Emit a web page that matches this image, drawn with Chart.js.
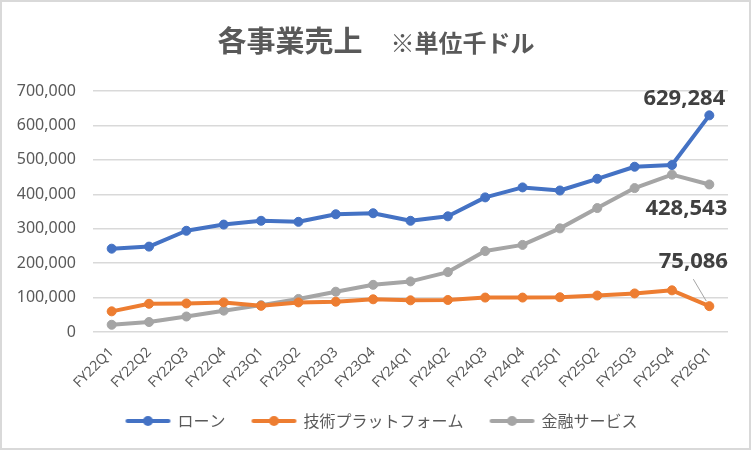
<!DOCTYPE html>
<html><head><meta charset="utf-8">
<script src="https://cdn.jsdelivr.net/npm/chart.js@4.4.0/dist/chart.umd.min.js"></script>
<style>html,body{margin:0;padding:0;background:#fff;}#wrap{width:752px;height:452px;}</style>
</head><body><div id="wrap"><canvas id="c" width="752" height="452"></canvas></div>
<script>
const categories = ["FY22Q1","FY22Q2","FY22Q3","FY22Q4","FY23Q1","FY23Q2","FY23Q3","FY23Q4","FY24Q1","FY24Q2","FY24Q3","FY24Q4","FY25Q1","FY25Q2","FY25Q3","FY25Q4","FY26Q1"];
const loan = [242000,248000,294000,312000,323000,320000,342000,345000,323000,336000,391000,420000,411000,445000,480000,485000,629284];
const techPlatform = [60000,82000,83000,86000,76000,86000,88000,95000,92000,93000,100000,100000,101000,106000,112000,121000,75086];
const finService = [21000,29000,45000,62000,78000,96000,117000,137000,147000,174000,235000,253000,301000,360000,418000,457000,428543];
const seriesNames = ["ローン","技術プラットフォーム","金融サービス"];
const titleMain = "各事業売上";
const titleSub = "※単位千ドル";
const yMin = 0, yMax = 700000, yStep = 100000;

const colors = ["#4472C4","#ED7D31","#A5A5A5"];
const JP = "'Noto Sans CJK JP','Noto Sans',sans-serif";
const NUM = "'Noto Sans','Noto Sans CJK JP',sans-serif";

function marker(color){
  const cv = document.createElement('canvas');
  cv.width = 70; cv.height = 14;
  const g = cv.getContext('2d');
  g.strokeStyle = color; g.lineWidth = 4; g.lineCap = 'round';
  g.beginPath(); g.moveTo(25,7); g.lineTo(66,7); g.stroke();
  g.fillStyle = color; g.beginPath(); g.arc(45.5,7,5,0,Math.PI*2); g.fill();
  return cv;
}
const markers = colors.map(marker);

const labelOffsets = [
  {dx:-25, dy:-17},
  {dx:-16, dy:-44, leader:[[-3,-5],[-16,-27]]},
  {dx:-23, dy:24}
];

const decor = {
  id:'decor',
  beforeDraw(chart){
    const ctx = chart.ctx;
    ctx.save();
    ctx.fillStyle = '#fff'; ctx.fillRect(0,0,chart.width,chart.height);
    ctx.restore();
  },
  afterDraw(chart){
    const ctx = chart.ctx;
    ctx.save();
    ctx.fillStyle = '#595959';
    ctx.textBaseline = 'alphabetic';
    ctx.textAlign = 'left';
    const f1 = "bold 29px " + JP, f2 = "bold 24px " + JP;
    ctx.font = f1;
    const w1 = ctx.measureText(titleMain).width;
    ctx.font = f2;
    const w2 = ctx.measureText(titleSub).width;
    const gap = 28;
    const x0 = 376 - (w1 + gap + w2)/2;
    ctx.font = f1;
    ctx.fillText(titleMain, x0, 52);
    ctx.font = f2;
    ctx.fillText(titleSub, x0 + w1 + gap, 52);
    ctx.strokeStyle = '#d9d9d9'; ctx.lineWidth = 2;
    ctx.strokeRect(1,1,749,448);
    ctx.restore();
  },
  afterDatasetsDraw(chart){
    const ctx = chart.ctx;
    ctx.save();
    chart.data.datasets.forEach((ds,i)=>{
      const meta = chart.getDatasetMeta(i);
      const n = ds.data.length - 1;
      const pt = meta.data[n];
      const o = labelOffsets[i];
      if (o.leader){
        ctx.strokeStyle = '#a6a6a6'; ctx.lineWidth = 1;
        ctx.beginPath();
        ctx.moveTo(pt.x + o.leader[0][0], pt.y + o.leader[0][1]);
        ctx.lineTo(pt.x + o.leader[1][0], pt.y + o.leader[1][1]);
        ctx.stroke();
      }
      ctx.fillStyle = '#404040';
      ctx.font = "bold 22px " + NUM;
      ctx.textAlign = 'center'; ctx.textBaseline = 'middle';
      ctx.fillText(ds.data[n].toLocaleString('en-US'), pt.x + o.dx, pt.y + o.dy);
    });
    ctx.restore();
  }
};

const datasets = [loan, techPlatform, finService].map((d,i)=>({
  label: seriesNames[i],
  data: d,
  borderColor: colors[i],
  backgroundColor: colors[i],
  borderWidth: 4,
  pointRadius: 4.5,
  pointBorderWidth: 1,
  pointBackgroundColor: colors[i],
  pointBorderColor: colors[i],
  pointHoverRadius: 4.5,
  borderJoinStyle: 'round',
  borderCapStyle: 'round',
  tension: 0
}));

new Chart(document.getElementById('c'), {
  type: 'line',
  data: { labels: categories, datasets },
  options: {
    responsive: false,
    animation: false,
    devicePixelRatio: 1,
    layout: { padding: { top: 91, left: 15, right: 24, bottom: 13 } },
    plugins: {
      title: { display: false },
      tooltip: { enabled: false },
      legend: {
        position: 'bottom',
        labels: {
          usePointStyle: true,
          pointStyleWidth: 64,
          padding: 6,
          color: '#595959',
          font: { family: JP, size: 16 },
          generateLabels(chart){
            return Chart.defaults.plugins.legend.labels.generateLabels(chart).map((it,i)=>({...it, pointStyle: markers[i]}));
          }
        }
      }
    },
    scales: {
      x: {
        offset: true,
        grid: { display: false, drawTicks: false },
        border: { display: false },
        ticks: { minRotation: 45, maxRotation: 45, padding: 12, color: '#595959', font: { family: NUM, size: 14 }, autoSkip: false },
        afterFit(s){ s.height = 75; }
      },
      y: {
        min: yMin, max: yMax,
        grid: { color: '#d9d9d9', lineWidth: 1.5, drawTicks: false },
        border: { display: false },
        ticks: { stepSize: yStep, padding: 17, color: '#595959', font: { family: NUM, size: 16 },
          callback: v => v.toLocaleString('en-US') },
        afterFit(s){ s.width = 78; }
      }
    }
  },
  plugins: [decor]
});
</script></body></html>
